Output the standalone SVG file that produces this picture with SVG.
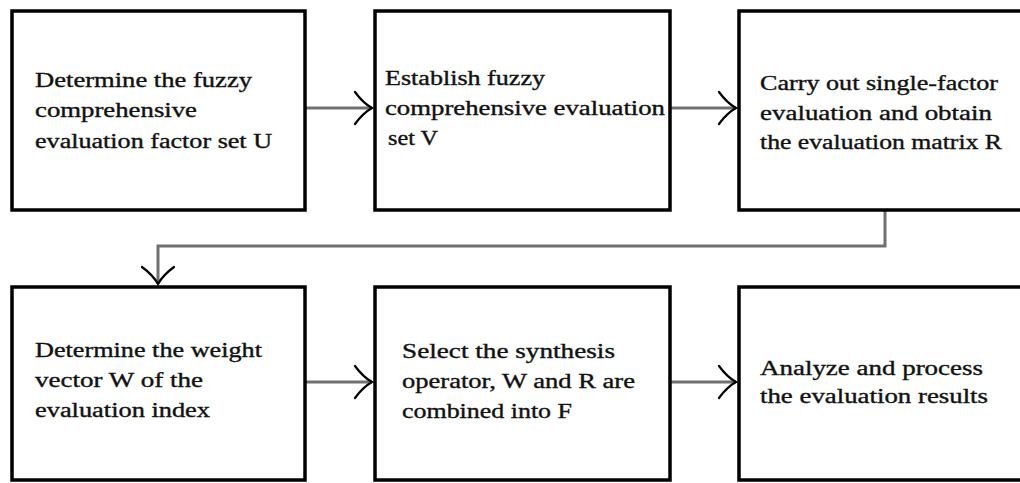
<svg xmlns="http://www.w3.org/2000/svg" width="1020" height="483" viewBox="0 0 1020 483">
<defs>
<style>
.box{fill:#fff;stroke:#000;stroke-width:3.5}
.lbl{font-family:"Liberation Serif","Times New Roman",serif;font-size:20px;fill:#111;stroke:#111;stroke-width:0.35}
.conn{fill:none;stroke:#707070;stroke-width:3}
</style>
<marker id="arr" markerUnits="userSpaceOnUse" viewBox="-20 -18 22 36" refX="0" refY="0" markerWidth="22" markerHeight="36" orient="auto" overflow="visible">
<path d="M-17,-16 Q-9,-5 0,0 Q-9,5 -17,16" fill="none" stroke="#000" stroke-width="2.2" stroke-linecap="round"/>
</marker>
</defs>
<rect width="1020" height="483" fill="#fff"/>
<g id="connectors">
<line class="conn" x1="306" y1="108" x2="372" y2="108" marker-end="url(#arr)"/>
<line class="conn" x1="671" y1="108" x2="736" y2="108" marker-end="url(#arr)"/>
<polyline class="conn" points="885,211 885,246 158,246 158,284" marker-end="url(#arr)"/>
<line class="conn" x1="306" y1="382" x2="372" y2="382" marker-end="url(#arr)"/>
<line class="conn" x1="671" y1="382" x2="736" y2="382" marker-end="url(#arr)"/>
</g>
<g id="node1">
<rect class="box" x="12" y="11" width="293" height="199"/>
<text class="lbl" x="35" y="87" textLength="217" lengthAdjust="spacingAndGlyphs">Determine the fuzzy</text>
<text class="lbl" x="35" y="117" textLength="162" lengthAdjust="spacingAndGlyphs">comprehensive</text>
<text class="lbl" x="35" y="148" textLength="237" lengthAdjust="spacingAndGlyphs">evaluation factor set U</text>
</g>
<g id="node2">
<rect class="box" x="375" y="11" width="295" height="199"/>
<text class="lbl" x="385" y="85" textLength="160" lengthAdjust="spacingAndGlyphs">Establish fuzzy</text>
<text class="lbl" x="385" y="115" textLength="280" lengthAdjust="spacingAndGlyphs">comprehensive evaluation</text>
<text class="lbl" x="388" y="145" textLength="50" lengthAdjust="spacingAndGlyphs">set V</text>
</g>
<g id="node3">
<rect class="box" x="739" y="11" width="300" height="199"/>
<text class="lbl" x="760" y="90" textLength="238" lengthAdjust="spacingAndGlyphs">Carry out single-factor</text>
<text class="lbl" x="760" y="120" textLength="232" lengthAdjust="spacingAndGlyphs">evaluation and obtain</text>
<text class="lbl" x="760" y="149" textLength="242" lengthAdjust="spacingAndGlyphs">the evaluation matrix R</text>
</g>
<g id="node4">
<rect class="box" x="12" y="287" width="293" height="193"/>
<text class="lbl" x="35" y="357" textLength="227" lengthAdjust="spacingAndGlyphs">Determine the weight</text>
<text class="lbl" x="35" y="387" textLength="168" lengthAdjust="spacingAndGlyphs">vector W of the</text>
<text class="lbl" x="35" y="417" textLength="175" lengthAdjust="spacingAndGlyphs">evaluation index</text>
</g>
<g id="node5">
<rect class="box" x="375" y="287" width="295" height="193"/>
<text class="lbl" x="402" y="358" textLength="213" lengthAdjust="spacingAndGlyphs">Select the synthesis</text>
<text class="lbl" x="402" y="388" textLength="233" lengthAdjust="spacingAndGlyphs">operator, W and R are</text>
<text class="lbl" x="402" y="418" textLength="170" lengthAdjust="spacingAndGlyphs">combined into F</text>
</g>
<g id="node6">
<rect class="box" x="739" y="287" width="300" height="193"/>
<text class="lbl" x="760" y="375" textLength="223" lengthAdjust="spacingAndGlyphs">Analyze and process</text>
<text class="lbl" x="760" y="403" textLength="228" lengthAdjust="spacingAndGlyphs">the evaluation results</text>
</g>
</svg>
